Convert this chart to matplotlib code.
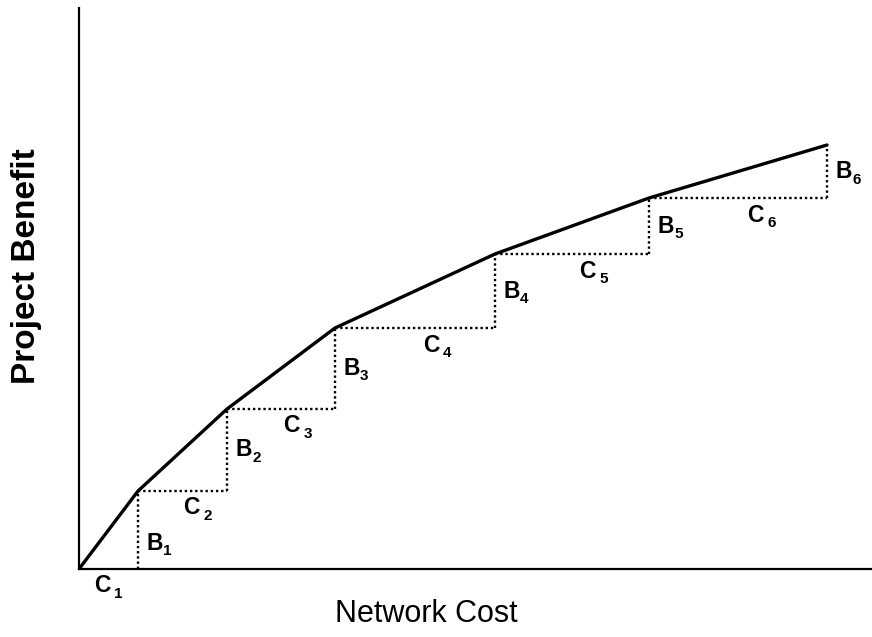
"""Stepwise project benefit versus network cost."""

import numpy as np
import matplotlib
matplotlib.use("Agg")
import matplotlib.pyplot as plt

plt.rcParams["font.family"] = ["Liberation Sans", "DejaVu Sans"]

# incremental cost and benefit of each project (arbitrary units)
cost_steps = [59, 89, 108, 160, 154, 178]
benefit_steps = [78, 82, 81, 74, 56, 53]
cost_labels = ["1", "2", "3", "4", "5", "6"]
benefit_labels = ["1", "2", "3", "4", "5", "6"]

x = np.concatenate([[0], np.cumsum(cost_steps)])
y = np.concatenate([[0], np.cumsum(benefit_steps)])

fig = plt.figure(figsize=(8.72, 6.37), dpi=100)
ax = fig.add_axes([79 / 872, 1 - 569 / 637, 1 - 79 / 872, 561 / 637])
ax.set_xlim(0, 793)
ax.set_ylim(0, 561)

PX = 0.72  # points per pixel at 100 dpi


def label(letter, sub, xy, dx, dy, ha):
    """Letter with a detached subscript, offset in pixels from xy."""
    ax.annotate(letter, xy=xy, xytext=(dx * PX, dy * PX),
                textcoords="offset points", ha=ha, va="center",
                fontsize=16.5, fontweight="bold")
    shift = 9 if ha == "left" else 4
    ax.annotate(sub, xy=xy, xytext=((dx + shift + 8) * PX, (dy - 8) * PX),
                textcoords="offset points", ha="left", va="center",
                fontsize=11, fontweight="bold")


# dotted steps: horizontal run then vertical rise
dot = dict(color="black", lw=1.7, linestyle=(0, (1, 1.2)))
for i in range(len(cost_steps)):
    if i > 0:
        ax.plot([x[i], x[i + 1]], [y[i], y[i]], **dot)
    ax.plot([x[i + 1], x[i + 1]], [y[i], y[i + 1]], **dot)

ax.plot(x, y, color="black", lw=2.4, solid_capstyle="round", zorder=3)

for i in range(len(cost_steps)):
    cx = x[i] + 0.6 * (x[i + 1] - x[i])
    label("C", cost_labels[i], (cx, y[i]), -12 if i == 0 else 0, -17,
          "center")
    label("B", benefit_labels[i], (x[i + 1], (y[i] + y[i + 1]) / 2), 8,
          -13 if i == 0 else 0, "left")

for side in ["top", "right"]:
    ax.spines[side].set_visible(False)
for side in ["left", "bottom"]:
    ax.spines[side].set_linewidth(1.6)
ax.set_xticks([])
ax.set_yticks([])

fig.text(426 / 872, 1 - 614 / 637, "Network Cost", ha="center", va="center",
         fontsize=22)
fig.text(27 / 872, 1 - 266 / 637, "Project Benefit", ha="center", va="center",
         rotation=90, fontsize=24, fontweight="bold")

fig.savefig("out.png", dpi=100)
